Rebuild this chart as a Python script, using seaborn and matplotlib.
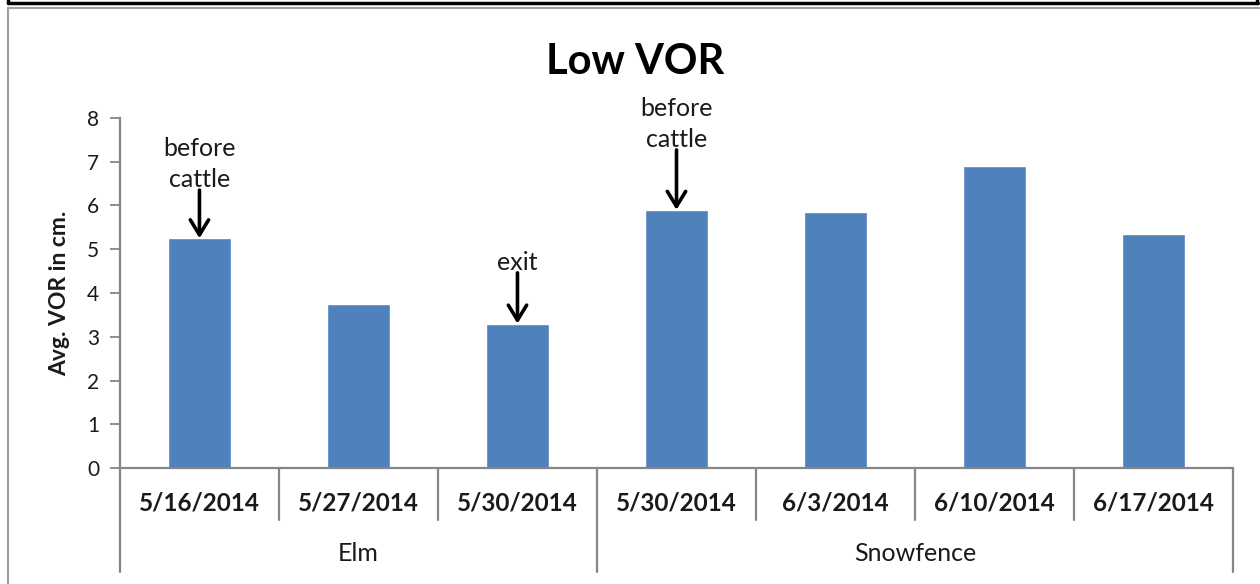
import numpy as np
import pandas as pd
import matplotlib.pyplot as plt
import matplotlib.transforms as mtransforms
from matplotlib.lines import Line2D
import seaborn as sns


# Values
sites = ['Elm', 'Elm', 'Elm', 'Snowfence', 'Snowfence', 'Snowfence', 'Snowfence']
dates = ['5/16/2014', '5/27/2014', '5/30/2014',
         '5/30/2014', '6/3/2014', '6/10/2014', '6/17/2014']
vor = [5.25, 3.75, 3.3, 5.9, 5.85, 6.9, 5.35]
notes = ['before\ncattle', '', 'exit', 'before\ncattle', '', '', '']
yticks = [0, 1, 2, 3, 4, 5, 6, 7, 8]

# arrow length (data units) for each annotated bar
arrow_len = {0: 1.1, 2: 1.16, 3: 1.37}

df = pd.DataFrame({'site': sites, 'date': dates, 'VOR': vor})
df['key'] = df['site'] + ' ' + df['date']

bar_col = '#4F81BD'
axis_col = '#868686'
txt_col = '#1a1a1a'

sns.set_theme(style='white')
plt.rcParams['font.family'] = ['Lato', 'DejaVu Sans']

fig = plt.figure(figsize=(12.6, 5.84), dpi=100)
ax = fig.add_axes([0.0952, 0.1986, 0.8834, 0.5994])

sns.barplot(x='key', y='VOR', data=df, order=list(df['key']), color=bar_col,
            saturation=1, width=0.4, errorbar=None, ax=ax)

ax.set_xlim(-0.5, len(df) - 0.5)
ax.set_ylim(0, 8)
ax.set_yticks(yticks)
ax.set_yticklabels([str(t) for t in yticks], fontsize=15, color=txt_col)
ax.tick_params(axis='y', length=7, width=1.3, color=axis_col, pad=8, left=True)
ax.set_xticks([])
ax.set_xlabel('')
ax.set_ylabel('Avg. VOR in cm.', fontsize=16.5, fontweight='bold',
              labelpad=12, color=txt_col)
for side in ['top', 'right']:
    ax.spines[side].set_visible(False)
for side in ['left', 'bottom']:
    ax.spines[side].set_color(axis_col)
    ax.spines[side].set_linewidth(1.6)

# title sits over the middle of the whole chart box, not the axes
ax.set_title('Low VOR', fontsize=30, fontweight='bold', pad=32,
             color='black', x=0.4627)

# Two-level category axis drawn below the plot
trans = mtransforms.blended_transform_factory(ax.transData, ax.transAxes)
n = len(df)
for i in range(n + 1):
    x = i - 0.5
    is_group = i == 0 or i == n or sites[i] != sites[i - 1]
    y_end = -0.297 if is_group else -0.149
    ax.add_line(Line2D([x, x], [0, y_end], transform=trans, color=axis_col,
                       lw=1.6, clip_on=False))
for i, d in enumerate(dates):
    ax.text(i, -0.1, d, transform=trans, ha='center', va='center',
            fontsize=17.5, fontweight='bold', color=txt_col)
groups = pd.Series(range(n)).groupby(pd.Series(sites)).agg(['min', 'max'])
for site, row in groups.iterrows():
    ax.text((row['min'] + row['max']) / 2, -0.243, site, transform=trans,
            ha='center', va='center', fontsize=18, color=txt_col)

# Arrow notes
for i, note in enumerate(notes):
    if not note:
        continue
    start = vor[i] + arrow_len[i]
    ax.annotate('', xy=(i, vor[i]), xytext=(i, start),
                arrowprops=dict(arrowstyle='->,head_width=0.55,head_length=0.9',
                                color='black', lw=2.6, shrinkA=0, shrinkB=0))
    ax.text(i, start - 0.02, note, ha='center', va='bottom', fontsize=18,
            linespacing=1.4, color=txt_col)

# Frame borders like the source screenshot
H, W = 584, 1260
def px(x, y):
    return x / W, 1 - y / H
fig.add_artist(Line2D([px(8, 0)[0], px(1258, 0)[0]], [px(0, 3)[1]] * 2,
                      color='black', lw=2.5))
fig.add_artist(Line2D([px(1257, 0)[0]] * 2, [1, px(0, 3)[1]], color='black', lw=2.5))
fig.add_artist(Line2D([px(8, 0)[0]] * 2, [1, px(0, 3)[1]], color='black', lw=2.5))
fig.add_artist(Line2D([px(8, 0)[0], 1], [px(0, 8)[1]] * 2, color='#a0a0a0', lw=1.5))
fig.add_artist(Line2D([px(8, 0)[0]] * 2, [px(0, 8)[1], 0], color='#a0a0a0', lw=1.5))

plt.savefig('out.png', dpi=100)
